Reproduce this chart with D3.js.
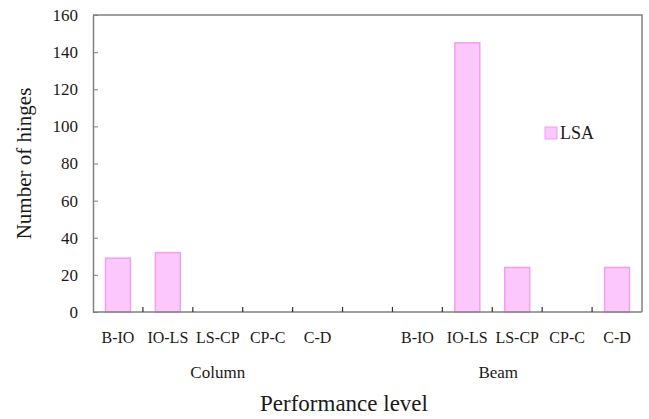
<!DOCTYPE html>
<html lang="en">
<head>
<meta charset="utf-8">
<title>Hinges</title>
<script src="https://cdnjs.cloudflare.com/ajax/libs/d3/7.8.5/d3.min.js"></script>
<style>
  body { margin: 0; background: #fff; }
  svg text { font-family: "Liberation Serif", "DejaVu Serif", serif !important; fill: #1a1a1a; }
</style>
</head>
<body>
<script>
// data
const slots = ["c0", "c1", "c2", "c3", "c4", "gap", "b0", "b1", "b2", "b3", "b4"];
const slotLabels = ["B-IO", "IO-LS", "LS-CP", "CP-C", "C-D", "", "B-IO", "IO-LS", "LS-CP", "CP-C", "C-D"];
const lsaValues = [29, 32, 0, 0, 0, null, 0, 145, 24, 0, 24];
const groups = ["Column", "Beam"];
const groupPos = [2.5, 8.12]; // in slot units
const yTicks = [0, 20, 40, 60, 80, 100, 120, 140, 160];

const width = 649, height = 419;
const m = { left: 93, right: 7, top: 15, bottom: 107 };

const svg = d3.select("body").append("svg")
  .attr("width", width).attr("height", height);

const x = d3.scaleBand().domain(slots).range([m.left, width - m.right]);
const y = d3.scaleLinear().domain([0, 160]).range([height - m.bottom, m.top]);
const unit = x.bandwidth();

// bars
svg.selectAll(".bar")
  .data(slots.map((s, i) => ({ s, v: lsaValues[i] })).filter(d => d.v))
  .enter().append("rect")
  .attr("class", "bar")
  .attr("x", d => x(d.s) + unit * 0.25)
  .attr("width", unit * 0.5)
  .attr("y", d => y(d.v))
  .attr("height", d => y(0) - y(d.v))
  .style("fill", "#fcc8fb")
  .style("stroke", "#f0a0ee")
  .style("stroke-width", 1.5);

// frame (top and right)
svg.append("path")
  .attr("d", `M${m.left},${y(160)}H${width - m.right}V${y(0)}`)
  .attr("fill", "none").attr("stroke", "#808080").attr("stroke-width", 1.5);

// y axis
const yAxis = svg.append("g")
  .attr("transform", `translate(${m.left},0)`)
  .call(d3.axisLeft(y).tickValues(yTicks).tickSizeInner(-5).tickSizeOuter(0).tickPadding(15));
yAxis.attr("font-family", null);
yAxis.select(".domain").attr("stroke", "#808080").attr("stroke-width", 1.5);
yAxis.selectAll(".tick line").attr("stroke", "#808080");
yAxis.selectAll(".tick text").style("font-size", "17px").attr("fill", "#1a1a1a");

// x axis
const xb = svg.append("g");
xb.append("line")
  .attr("x1", m.left).attr("x2", width - m.right)
  .attr("y1", y(0)).attr("y2", y(0))
  .attr("stroke", "#808080").attr("stroke-width", 1.5);
xb.selectAll(".xt").data(slots.slice(1)).enter().append("line")
  .attr("x1", d => x(d)).attr("x2", d => x(d))
  .attr("y1", y(0)).attr("y2", y(0) - 5)
  .attr("stroke", "#333").attr("stroke-width", 1.2);
xb.selectAll(".xl").data(slots).enter().append("text")
  .attr("x", d => x(d) + unit / 2)
  .attr("y", y(0) + 31)
  .attr("text-anchor", "middle")
  .style("font-size", "16px")
  .text((d, i) => slotLabels[i]);

// group labels
svg.selectAll(".grp").data(groups).enter().append("text")
  .attr("x", (d, i) => m.left + groupPos[i] * unit)
  .attr("y", y(0) + 66)
  .attr("text-anchor", "middle")
  .style("font-size", "17px")
  .text(d => d);

// axis titles
svg.append("text")
  .attr("x", 344).attr("y", 411)
  .attr("text-anchor", "middle")
  .style("font-size", "23px")
  .text("Performance level");
svg.append("text")
  .attr("transform", `translate(31,${(y(0) + y(160)) / 2}) rotate(-90)`)
  .attr("text-anchor", "middle")
  .style("font-size", "21px")
  .text("Number of hinges");

// legend
const lg = svg.append("g").attr("transform", "translate(545,127)");
lg.append("rect").attr("width", 12).attr("height", 12)
  .style("fill", "#fcc8fb").style("stroke", "#f0a0ee");
lg.append("text").attr("x", 15).attr("y", 12).style("font-size", "18px").text("LSA");
</script>
</body>
</html>
